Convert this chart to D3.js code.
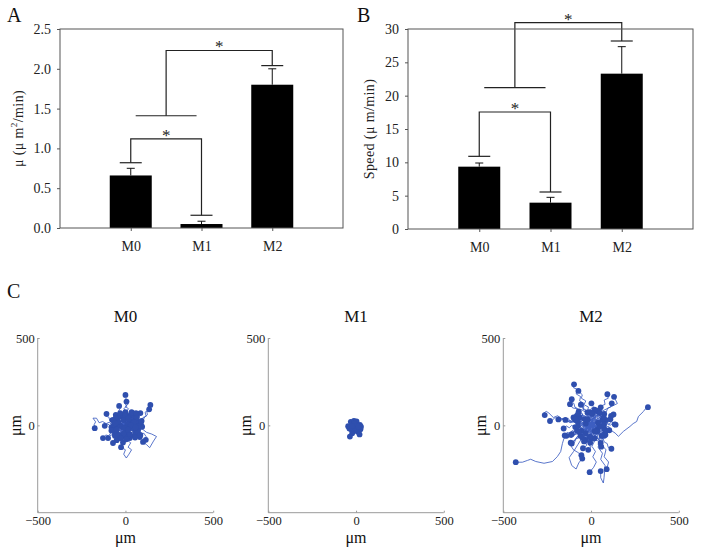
<!DOCTYPE html>
<html><head><meta charset="utf-8">
<script src="https://cdn.jsdelivr.net/npm/d3@7"></script>
<style>body{margin:0;background:#fff}svg{display:block;font-family:"Liberation Serif","Times New Roman",serif}</style>
</head><body><svg id="c" width="704" height="556"></svg>
<script>
// ---------- data ----------
const groups = ["M0", "M1", "M2"];
const muMean = [0.66, 0.05, 1.80];
const muErr = [0.09, 0.035, 0.20];
const muTicks = [0, 0.5, 1.0, 1.5, 2.0, 2.5];
const muCaps = [0.82, 0.16, 2.04];
const muBrackets = [1.12, 1.41, 2.23]; // pair bracket, join line, top bracket

const speedMean = [9.35, 3.95, 23.3];
const speedErr = [0.55, 0.8, 4.05];
const speedTicks = [0, 5, 10, 15, 20, 25, 30];
const speedCaps = [10.9, 5.55, 28.2];
const speedBrackets = [17.55, 21.2, 30.95];

const trackTicks = [-500, 0, 500];

const m0Tracks = [
[0,0,10,20,-5,40,15,55,5,80,-10,95,8,110,-6,130,12,145,-4,160,0,174],
[0,0,-12,15,8,30,-6,50,20,62,4,80,18,95,-2,108,14,120,6,136],
[0,0,20,8,35,-6,55,10,70,28,88,22,100,45,118,52,112,75,130,88,138,100,142,117],
[0,0,15,-12,30,5,50,-4,62,18,85,30,95,20,110,48,125,60,122,78,135,92],
[0,0,12,18,30,12,38,35,55,28,62,50,78,48,85,70],
[0,0,-15,10,-30,-4,-45,15,-58,8,-70,30,-88,25,-95,48,-112,52,-108,66],
[0,0,-20,5,-38,-10,-55,6,-75,-2,-92,18,-110,10,-130,22,-150,15,-165,41,-185,41,-170,20,-178,5,-175,-16],
[0,0,-14,-10,-30,4,-50,-8,-65,10,-85,-5,-100,8,-118,-3],
[0,0,-18,-12,-25,-30,-48,-25,-60,-45,-82,-40,-95,-60,-112,-55,-128,-73],
[0,0,-10,-20,-28,-15,-40,-35,-60,-30,-70,-52,-88,-58,-99,-73],
[0,0,-8,-18,-22,-28,-15,-48,-35,-60,-42,-78,-60,-82,-71,-101],
[0,0,14,-10,25,-28,42,-22,55,-40,70,-35,78,-52,82,-67],
[0,0,20,-5,35,-22,58,-15,70,-38,92,-50,105,-45,118,-65,116,-83],
[0,0,8,-15,-6,-30,10,-45,-4,-62,8,-80,-14,-98],
[0,0,-10,-12,6,-25,20,-20,15,-45,30,-55,25,-73],
[0,0,-10,18,5,35,-18,50,-25,72,-40,80,-30,98,-36,111],
[0,0,15,-20,5,-45,25,-60,10,-85,30,-100,15,-125,35,-140,20,-165,5,-187,-10,-165,0,-140,-25,-125],
[0,0,25,-15,50,-5,70,-25,95,-20,120,-40,150,-50,177,-64,160,-90,138,-128,120,-110,100,-95],
[0,0,15,12,30,-5,22,-25,40,-30,45,-10,60,5],
[0,0,-12,14,-25,30,-10,45,-30,55,-45,40,-55,60],
[0,0,10,25,28,40,45,35,52,55,40,70],
[0,0,-20,-5,-35,15,-50,25,-40,45],
[0,0,12,-8,30,-2,48,-18,60,-10,72,-25],
[0,0,-5,-20,-25,-30,-35,-50,-20,-60],
[0,0,8,10,25,18,20,35,38,42,30,60],
[0,0,-18,6,-30,-12,-45,-20,-55,-10],
[0,0,20,-20,10,-40,30,-45,50,-60],
[0,0,-8,10,-20,20,-12,5,-30,-2],
[0,0,5,-12,20,-8,15,10,30,20],
[0,0,-10,-5,-5,-20,10,-15,5,-30],
[0,0,12,5,8,-10,25,-15,35,5,45,25],
[0,0,-15,-18,-35,-5,-48,-30,-60,-50],
[0,0,10,30,-5,45,15,60,0,75],
[0,0,-25,15,-45,0,-65,-15,-80,-10],
[0,0,30,15,45,0,65,15,80,5,95,-8],
[0,0,-5,15,10,25,25,10,40,22,55,40],
[0,0,-15,-30,-5,-50,-25,-70,-45,-65,-50,-85],
[0,0,20,10,15,-15,35,-30,55,-25,65,-45],
[0,0,-10,25,-30,20,-40,5,-60,15,-75,30],
[0,0,5,-8,-8,-12,-2,5,12,2,18,-12],
[0,0,6,-9,14,-4,10,8,22,12,18,24,30,28,26,40,38,46,34,58],
[0,0,-7,8,-15,3,-12,-10,-24,-14,-20,-26,-32,-30,-28,-42,-40,-46,-36,-58],
[0,0,9,6,4,16,16,22,12,34,-2,38,6,50,-6,56,-2,68],
[0,0,-9,-6,-4,-16,-16,-22,-12,-34,2,-38,-6,-50,6,-56,2,-68],
[0,0,10,-4,18,4,28,-2,36,8,46,2,52,14,62,10,70,20],
[0,0,-10,4,-18,-4,-28,2,-36,-8,-46,-2,-52,-14,-62,-10,-70,-20],
[0,0,8,12,-2,20,-12,14,-20,24,-30,18,-38,28,-48,22,-56,32],
[0,0,-8,-12,2,-20,12,-14,20,-24,30,-18,38,-28,48,-22,56,-32],
[0,0,4,10,14,6,20,16,30,10,34,22,44,18,50,30,60,26],
[0,0,-4,-10,-14,-6,-20,-16,-30,-10,-34,-22,-44,-18,-50,-30,-60,-26],
[0,0,12,4,16,-8,28,-10,30,-22,42,-24,44,-36,56,-40],
[0,0,-12,-4,-16,8,-28,10,-30,22,-42,24,-44,36,-56,40],
[0,0,-6,6,0,14,-8,22,-2,30,-12,36,-8,46,-18,52],
[0,0,6,-6,0,-14,8,-22,2,-30,12,-36,8,-46,18,-52],
[0,0,14,-2,20,8,32,4,40,14,52,10,58,22,72,18,80,30,92,26],
[0,0,-14,2,-20,-8,-32,-4,-40,-14,-52,-10,-58,-22,-72,-18,-80,-30],
[0,0,3,-10,15,-14,22,-6,34,-12,42,-4,54,-10,64,-2,76,-8,88,0],
[0,0,-3,10,-15,14,-22,6,-34,12,-42,4,-54,10,-64,2],
[0,0,10,10,20,2,26,14,38,8,44,20,40,32,52,38,62,50],
[0,0,-10,-10,-20,-2,-26,-14,-38,-8,-44,-20,-40,-32,-52,-38],
[0,0,5,14,-6,22,2,32,-10,40,-4,52,-16,58],
[0,0,-5,-14,6,-22,-2,-32,10,-40,4,-52,16,-58,10,-70],
[0,0,-20,10,-35,30,-55,40],
[0,0,-5,25,-20,45,-30,70],
[0,0,12,18,-4,38,0,55],
[0,0,10,25,28,50,35,75],
[0,0,25,10,40,30,65,45],
[0,0,30,-5,60,10,90,20],
[0,0,-22,-8,-45,8,-65,5],
[0,0,-15,12,-28,8,-40,20],
[0,0,2,12,-12,20,-10,30],
[0,0,10,10,8,25,20,35],
[0,0,18,-6,35,5,50,15],
[0,0,25,5,50,-10,75,-5],
[0,0,-15,-15,-35,-12,-50,-25],
[0,0,-8,4,-14,-6,-20,-10],
[0,0,4,-6,6,4,10,5],
[0,0,15,-2,28,-20,40,-15],
[0,0,22,-15,45,-20,70,-35],
[0,0,-18,-20,-25,-40,-40,-55],
[0,0,5,-15,-8,-30,-10,-45],
[0,0,8,-18,20,-32,25,-50],
[0,0,20,-25,35,-50,55,-70],
[0,0,-5,-25,-20,-50,-25,-75],
[0,0,8,-25,-2,-55,5,-80],
[0,0,30,-15,60,-35,85,-55],
[0,0,-20,-20,-45,-35,-60,-60],
[0,0,10,-8,22,6,30,0],
[0,0,-4,-6,2,-10,-5,-15],
[0,0,6,-10,12,-16,15,-25],
[0,0,20,25,40,45,60,70],
[0,0,-25,8,-50,22,-70,30],
[0,0,14,6,24,-4,36,10,48,2,58,-12],
[0,0,-6,14,4,26,-8,36,6,46,16,38],
[0,0,-14,-6,-24,4,-36,-10,-48,-2,-58,12]
];

const m1Tracks = [
[0,0,-10,5,-20,-5,-30,8,-45,-5],
[0,0,-8,10,-20,15,-30,20],
[0,0,-5,12,-15,20,-12,26],
[0,0,5,10,8,18,3,22],
[0,0,8,2,15,-5,22,3],
[0,0,10,-8,18,-15,25,-22],
[0,0,5,-12,12,-25,10,-36],
[0,0,-4,-12,-2,-22,-8,-30],
[0,0,-10,-15,-15,-30,-22,-45],
[0,0,-12,-20,-25,-35,-30,-50,-35,-64],
[0,0,-8,-6,-16,-10],
[0,0,2,-6,-2,-12],
[0,0,-12,-8,-20,-15,-28,-22],
[0,0,8,-6,15,-12],
[0,0,-5,4,-10,10],
[0,0,15,-4,28,-8],
[0,0,-15,2,-25,-8,-38,-18],
[0,0,10,-20,18,-35,20,-52],
[0,0,-6,-4,-14,2,-22,-4],
[0,0,4,-4,10,2,14,-6]
];

const m2Tracks = [
[0,0,-15,20,-5,45,-30,60,-25,85,-50,100,-40,125,-65,140,-60,165,-85,180,-75,205,-100,215,-90,228,-97,235],
[0,0,12,25,-10,40,5,65,-20,80,-15,105,-40,118,-30,140,-55,155,-50,175,-72,197],
[0,0,20,15,15,40,40,50,35,75,60,85,55,110,80,120,75,145,98,155,93,178],
[0,0,-20,10,-15,35,-45,40,-50,65,-75,70,-80,95,-105,100,-120,121],
[0,0,25,-10,50,5,75,-15,100,-5,108,-25,137,-44,156,-63,184,-35,222,-6,240,10,260,22,270,51,298,79,310,95,324,104],
[0,0,-10,25,15,38,10,60,35,70,30,90,55,103],
[0,0,-25,-10,-45,10,-70,0,-95,20,-120,15,-140,40,-165,35,-190,55,-215,45,-240,70,-255,80,-270,70,-264,59],
[0,0,-20,15,-40,5,-60,25,-85,15,-110,30,-135,20,-160,40,-185,30,-205,45,-220,30,-234,25],
[0,0,-15,-15,-40,-10,-55,10,-80,5,-100,25,-125,18,-150,40,-170,30,-186,34],
[0,0,-18,8,-35,-5,-58,12,-75,5,-95,25,-118,20,-130,40,-146,31],
[0,0,20,-12,40,5,60,-8,80,15,100,5,118,20,135,6],
[0,0,15,-20,5,-40,30,-50,25,-72,48,-80,55,-100],
[0,0,-20,-15,-15,-35,-45,-40,-55,-60,-80,-65,-90,-85,-116,-99],
[0,0,-10,-25,8,-45,-15,-60,-5,-85,-30,-95,-25,-115,-46,-131],
[0,0,-25,-20,-40,-50,-70,-60,-95,-85,-120,-110,-100,-140,-75,-155,-55,-171],
[0,0,-30,-20,-60,-40,-95,-55,-125,-60,-154,-74,-163,-103,-173,-150,-192,-179,-220,-207,-268,-217,-315,-207,-344,-194,-363,-201,-391,-211,-429,-211],
[0,0,15,-30,-5,-60,20,-90,5,-120,25,-150,10,-180,30,-210,15,-240,-8,-268],
[0,0,30,-25,25,-60,50,-90,40,-125,65,-160,55,-195,80,-230,74,-300,70,-330,55,-300,55,-262],
[0,0,35,-10,50,-40,70,-70,60,-110,85,-140,75,-180,100,-210,89,-251],
[0,0,-20,-40,-50,-70,-75,-110,-100,-150,-125,-185,-110,-230,-85,-250,-70,-215,-50,-190],
[0,0,20,15,40,-5,55,20,70,10,85,30],
[0,0,-20,-15,-35,5,-55,-15,-70,5,-90,-10],
[0,0,10,-25,30,-35,45,-20,60,-45,80,-40],
[0,0,-15,20,-35,30,-25,50,-50,60,-65,45],
[0,0,25,25,20,50,45,60,60,45,75,65],
[0,0,-10,-30,-30,-45,-20,-65,-45,-75,-60,-60],
[0,0,15,10,5,30,-15,35,-10,15,-30,10],
[0,0,-25,5,-20,-20,0,-30,15,-15,35,-25],
[0,0,30,-5,45,15,30,35,50,45,65,30],
[0,0,-5,25,-25,40,-40,25,-60,35,-75,20],
[0,0,10,-15,-5,-35,-25,-25,-40,-40,-55,-30],
[0,0,20,5,35,25,55,15,60,-10,75,-20],
[0,0,-15,-10,-30,-30,-50,-20,-65,-40,-80,-30],
[0,0,5,20,25,35,10,55,30,70,20,90],
[0,0,-30,15,-50,40,-70,30,-85,55,-100,45],
[0,0,15,-30,40,-45,35,-70,60,-80,75,-60],
[0,0,-10,10,-25,-5,-15,-20,-35,-25,-30,-45],
[0,0,30,20,50,0,70,20,95,15,110,35],
[0,0,10,40,35,55,60,80,90,95,120,110,150,125,131,163],
[0,0,-40,-10,-65,-35,-90,-45,-110,-70,-140,-60],
[0,0,20,-20,15,-50,-10,-55,-20,-80,-5,-100],
[0,0,-20,30,-5,55,-30,75,-55,90,-70,80],
[0,0,25,-5,15,15,35,10,30,-15,50,-5],
[0,0,8,-12,20,-6,26,-20,38,-16,44,-30,58,-26,62,-42,76,-38,82,-54],
[0,0,-8,12,-20,6,-26,20,-38,16,-44,30,-58,26,-62,42,-76,38,-82,54],
[0,0,12,8,6,22,20,28,14,42,28,48,22,62,36,70,30,84],
[0,0,-12,-8,-6,-22,-20,-28,-14,-42,-28,-48,-22,-62,-36,-70,-30,-84],
[0,0,-10,-6,-18,6,-30,2,-36,14,-48,10,-54,24,-66,20,-72,34,-86,30],
[0,0,10,6,18,-6,30,-2,36,-14,48,-10,54,-24,66,-20,72,-34,86,-30],
[0,0,4,14,-8,20,-4,34,-16,40,-12,54,-24,60,-20,74],
[0,0,-4,-14,8,-20,4,-34,16,-40,12,-54,24,-60,20,-74],
[0,0,14,2,18,16,32,14,36,28,50,26,54,40,68,38],
[0,0,-14,-2,-18,-16,-32,-14,-36,-28,-50,-26,-54,-40,-68,-38],
[0,0,6,10,18,8,16,-4,28,-8,26,-20,38,-24,36,-36],
[0,0,-6,-10,-18,-8,-16,4,-28,8,-26,20,-38,24,-36,36],
[0,0,-14,10,-10,24,-24,30,-20,44,-34,50,-40,40,-54,46,-60,60,-74,66],
[0,0,14,-10,10,-24,24,-30,20,-44,34,-50,40,-40,54,-46,60,-60],
[0,0,2,-16,-12,-20,-10,-34,-24,-38,-20,-52,-34,-58,-30,-72,-44,-78,-40,-92],
[0,0,-2,16,12,20,10,34,24,38,20,52,34,58,30,72,44,78],
[0,0,16,4,22,-10,36,-6,44,-18,58,-12,66,-26,80,-20,90,-34,104,-28],
[0,0,-16,-4,-22,10,-36,6,-44,18,-58,12,-66,26,-80,20,-90,34],
[0,0,-8,-16,-22,-12,-30,-26,-44,-22,-52,-36,-66,-30,-72,-46,-86,-40,-96,-56,-110,-50],
[0,0,8,16,22,12,30,26,44,22,52,36,66,30,72,46],
[0,0,-12,4,-16,-10,-4,-18,-8,-32,4,-40,0,-54,12,-62,8,-76],
[0,0,12,-4,16,10,4,18,8,32,-4,40,0,54,-12,62,-8,76],
[0,0,-12,-18,-26,-10,-40,-24,-52,-14,-66,-28,-80,-20,-92,-36,-108,-30,-120,-46,-136,-40,-150,-58],
[0,0,12,18,26,10,40,24,52,14,66,28,80,20,92,36,108,30,120,46,128,62],
[0,0,-16,14,-8,30,-24,42,-16,58,-34,66,-28,84,-46,92,-40,110,-58,118],
[0,0,16,-14,8,-30,24,-42,16,-58,34,-66,28,-84,46,-92,40,-110,58,-122],
[0,0,18,6,30,20,46,14,58,30,74,24,86,42,102,36,114,54],
[0,0,-18,-6,-30,-20,-46,-14,-58,-30,-74,-24,-86,-42,-102,-36,-114,-54],
[0,0,-6,-18,6,-32,-8,-46,4,-60,-10,-76,2,-92,-12,-108,-2,-126,-16,-140],
[0,0,6,18,-6,32,8,46,-4,60,10,76,-2,92,12,108,2,126],
[0,0,-20,4,-34,-8,-50,4,-64,-10,-80,2,-94,-12,-110,0,-124,-14,-140,-4,-156,-18],
[0,0,20,-4,34,8,50,-4,64,10,80,-2,94,12,110,0,124,14,140,4],
[0,0,8,-10,-6,-20,4,-30,-10,-40,0,-50,-14,-58,-4,-68],
[0,0,-8,10,6,20,-4,30,10,40,0,50,14,58,4,68],
[0,0,10,12,0,24,12,34,2,46,16,54,8,66],
[0,0,-10,-12,0,-24,-12,-34,-2,-46,-16,-54,-8,-66],
[0,0,14,-6,22,4,34,-4,42,8,54,0,62,12,74,4],
[0,0,-14,6,-22,-4,-34,4,-42,-8,-54,0,-62,-12,-74,-4],
[0,0,-10,20,-24,26,-30,44,-44,50,-52,70,-68,76,-76,96,-92,104,-98,126,-116,134,-110,150],
[0,0,10,-20,24,-26,30,-44,44,-50,52,-70,68,-76,76,-96,92,-104,98,-126,116,-134],
[0,0,22,12,28,28,44,32,50,50,66,54,70,72,88,78,94,98,110,104,118,126],
[0,0,-22,-12,-28,-28,-44,-32,-50,-50,-66,-54,-70,-72,-88,-78,-94,-98,-110,-104],
[0,0,4,-8,-6,-4,-2,8,-14,10,-10,22,-22,22,-20,34],
[0,0,-4,8,6,4,2,-8,14,-10,10,-22,22,-22,20,-34],
[0,0,-16,-2,-12,-16,-28,-20,-24,-34,-40,-36,-38,-52,-54,-54,-50,-70],
[0,0,16,2,12,16,28,20,24,34,40,36,38,52,54,54,50,70],
[0,0,6,6,14,2,18,10,28,8,30,18,40,16]
];

// ---------- drawing ----------
const svg = d3.select("#c");
const SERIF = "Liberation Serif";

function barPanel(o) {
  const g = svg.append("g");
  const x = d3.scaleLinear().domain([0, 4]).range([o.left, o.right]);
  const y = d3.scaleLinear().domain([0, o.max]).range([o.bottom, o.top]);

  g.selectAll("rect.bar").data(o.mean).join("rect")
    .attr("x", (d, i) => x(i + 1) - 21).attr("width", 42)
    .attr("y", d => y(d)).attr("height", d => y(0) - y(d))
    .attr("fill", "#000");
  o.mean.forEach((m, i) => {
    const cx = x(i + 1);
    g.append("line").attr("x1", cx).attr("x2", cx).attr("y1", y(m)).attr("y2", y(m + o.err[i]))
      .attr("stroke", "#111").attr("stroke-width", 1);
    g.append("line").attr("x1", cx - 4).attr("x2", cx + 4).attr("y1", y(m + o.err[i])).attr("y2", y(m + o.err[i]))
      .attr("stroke", "#111").attr("stroke-width", 1);
    g.append("line").attr("x1", cx - 11).attr("x2", cx + 11).attr("y1", y(o.caps[i])).attr("y2", y(o.caps[i]))
      .attr("stroke", "#222").attr("stroke-width", 1.2);
  });
  const [pair, join, top] = o.brackets;
  const br = g.append("g").attr("fill", "none").attr("stroke", "#222").attr("stroke-width", 1.2);
  br.append("path").attr("d", `M${x(1)},${y(o.caps[0])}V${y(pair)}H${x(2)}V${y(o.caps[1])}`);
  br.append("line").attr("x1", x(1.07)).attr("x2", x(1.93)).attr("y1", y(join)).attr("y2", y(join));
  br.append("path").attr("d", `M${x(1.5)},${y(join)}V${y(top)}H${x(3)}V${y(o.caps[2])}`);
  g.append("text").attr("x", x(1.5)).attr("y", y(pair) + 2).attr("text-anchor", "middle")
    .attr("font-size", 17).attr("fill", "#222").text("*");
  g.append("text").attr("x", x(2.25)).attr("y", y(top) + 2).attr("text-anchor", "middle")
    .attr("font-size", 17).attr("fill", "#222").text("*");

  g.append("rect").attr("x", o.left).attr("y", o.top).attr("width", o.right - o.left).attr("height", o.bottom - o.top)
    .attr("fill", "none").attr("stroke", "#555").attr("stroke-width", 1);

  const ya = g.append("g").attr("transform", `translate(${o.left},0)`)
    .call(d3.axisLeft(y).tickValues(o.ticks).tickFormat(o.fmt).tickSize(3).tickPadding(6));
  ya.select(".domain").remove();
  ya.selectAll("line").attr("stroke", "#555");
  ya.selectAll("text").attr("font-size", 14).attr("fill", "#222").attr("font-family", SERIF);

  const xa = g.append("g").attr("transform", `translate(0,${o.bottom})`)
    .call(d3.axisBottom(x).tickValues([1, 2, 3]).tickFormat(d => groups[d - 1]).tickSize(3).tickPadding(10));
  xa.select(".domain").remove();
  xa.selectAll("line").attr("stroke", "#555");
  xa.selectAll("text").attr("font-size", 14).attr("fill", "#222").attr("font-family", SERIF);

  const lab = g.append("text").attr("transform", `translate(${o.labelX},${(o.top + o.bottom) / 2}) rotate(-90)`)
    .attr("text-anchor", "middle").attr("font-size", 14).attr("fill", "#222").attr("letter-spacing", 0.4);
  o.label(lab);
  g.append("text").attr("x", o.letterX).attr("y", o.letterY).attr("font-size", 20).attr("fill", "#111").text(o.letter);
}

barPanel({
  left: 60, right: 343, top: 29, bottom: 228, max: 2.5,
  mean: muMean, err: muErr, ticks: muTicks, fmt: d3.format(".1f"),
  caps: muCaps, brackets: muBrackets,
  labelX: 23, letter: "A", letterX: 7, letterY: 22,
  label: t => { t.append("tspan").text("μ (μ m");
    t.append("tspan").attr("dy", -6).attr("font-size", 9).text("2");
    t.append("tspan").attr("dy", 6).text("/min)"); }
});
barPanel({
  left: 408, right: 693, top: 29, bottom: 229, max: 30,
  mean: speedMean, err: speedErr, ticks: speedTicks, fmt: d3.format("d"),
  caps: speedCaps, brackets: speedBrackets,
  labelX: 374, letter: "B", letterX: 357, letterY: 22,
  label: t => t.text("Speed (μ m/min)")
});

svg.append("text").attr("x", 7).attr("y", 298).attr("font-size", 20).attr("fill", "#111").text("C");

function trackPanel(left, tracks, title) {
  const g = svg.append("g");
  const x = d3.scaleLinear().domain([-500, 500]).range([left, left + 175.5]);
  const y = d3.scaleLinear().domain([-500, 500]).range([512.7, 338]);
  const line = d3.line().x(p => x(p[0])).y(p => y(p[1]));
  const pts = tracks.map(t => d3.range(0, t.length, 2).map(k => [t[k], t[k + 1]]));

  g.append("g").selectAll("path").data(pts).join("path")
    .attr("d", line).attr("fill", "none").attr("stroke", "#3d5ec2").attr("stroke-width", 0.85)
    .attr("stroke-linejoin", "round");
  g.append("g").selectAll("circle").data(pts).join("circle")
    .attr("cx", p => x(p[p.length - 1][0])).attr("cy", p => y(p[p.length - 1][1]))
    .attr("r", 2.9).attr("fill", "#2f4fae");

  const ya = g.append("g").attr("transform", `translate(${left},0)`)
    .call(d3.axisLeft(y).tickValues([0, 500]).tickSize(-2).tickPadding(3));
  const xa = g.append("g").attr("transform", `translate(0,512.7)`)
    .call(d3.axisBottom(x).tickValues(trackTicks).tickSize(-2).tickPadding(3));
  [ya, xa].forEach(a => {
    a.select(".domain").attr("stroke", "#9a9a9a");
    a.selectAll("line").attr("stroke", "#9a9a9a");
    a.selectAll("text").attr("font-size", 12.5).attr("fill", "#222").attr("font-family", SERIF);
  });
  ya.select(".domain").attr("d", `M0,${y(500)}V${y(-500)}`);
  xa.select(".domain").attr("d", `M${x(-500)},0H${x(500)}`);

  g.append("text").attr("x", left + 87.75).attr("y", 322).attr("text-anchor", "middle")
    .attr("font-size", 17).attr("fill", "#111").text(title);
  g.append("text").attr("x", left + 87.75).attr("y", 543).attr("text-anchor", "middle")
    .attr("font-size", 16).attr("fill", "#111").text("μm");
  g.append("text").attr("transform", `translate(${left - 17},425.5) rotate(-90)`).attr("text-anchor", "middle")
    .attr("font-size", 16).attr("fill", "#111").text("μm");
}

trackPanel(37.7, m0Tracks, groups[0]);
trackPanel(268.3, m1Tracks, groups[1]);
trackPanel(503.3, m2Tracks, groups[2]);
</script></body></html>
